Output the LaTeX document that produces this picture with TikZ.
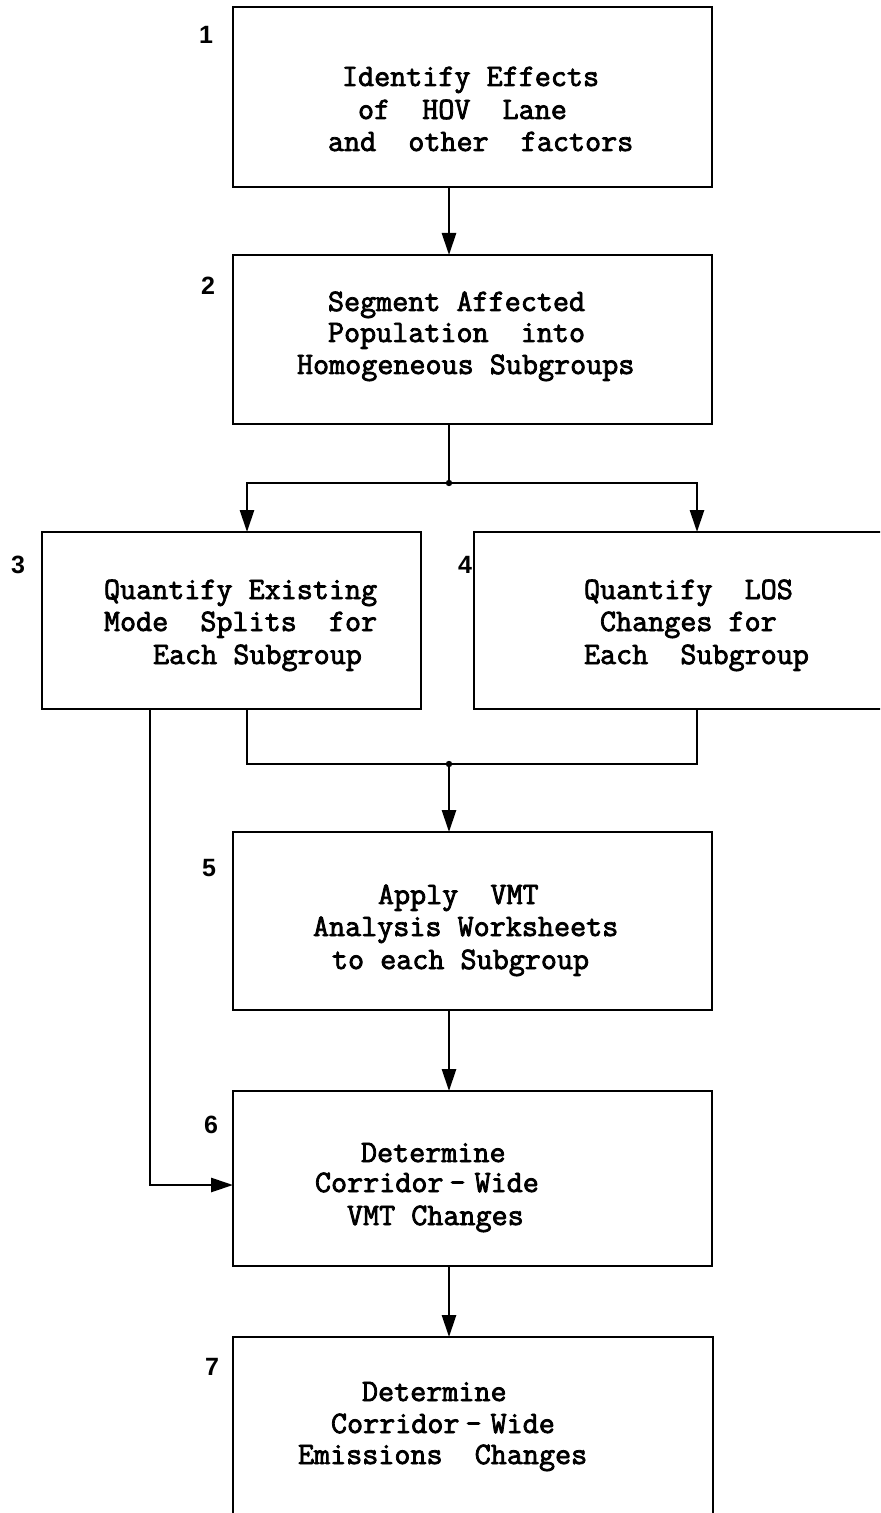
\documentclass[tikz,border=0pt]{standalone}
\usepackage{fontspec}
\usetikzlibrary{arrows.meta,fit}
\newfontfamily\numfont{Liberation Sans}
\newfontfamily\twfont[FakeBold=2.5]{Latin Modern Mono}
\begin{document}
\begin{tikzpicture}[x=0.5pt,y=-0.5pt,
  line width=1.4pt,
  box/.style={draw, line width=1.4pt, inner sep=0pt, outer sep=0pt},
  txt/.style={inner sep=0pt, outer sep=0pt, anchor=base west, font=\twfont\fontsize{15.6pt}{18pt}\selectfont},
  num/.style={inner sep=0pt, outer sep=0pt, anchor=center, font=\numfont\bfseries\fontsize{12.5pt}{14pt}\selectfont},
  arr/.style={-{Triangle[length=11pt,width=7pt]}},
  dot/.style={circle, fill, inner sep=0pt, minimum size=3.2pt}]
\clip (0,0) rectangle (880,1513);
\fill[white] (0,0) rectangle (880,1513);
% boxes
\node[box, fit={(233,7) (712,187)}] (b1) {};
\node[box, fit={(233,255) (712,424)}] (b2) {};
\node[box, fit={(42,532) (421,709)}] (b3) {};
\node[box, fit={(474,532) (910,709)}] (b4) {};
\node[box, fit={(233,832) (712,1010)}] (b5) {};
\node[box, fit={(233,1091) (712,1266)}] (b6) {};
\node[box, fit={(233,1337) (713,1560)}] (b7) {};
% numbers
\node[num] (n1) at (206,35) {1};
\node[num] (n2) at (208,286) {2};
\node[num] (n3) at (18,565) {3};
\node[num] (n4) at (465,565) {4};
\node[num] (n5) at (209,868) {5};
\node[num] (n6) at (211,1125) {6};
\node[num] (n7) at (212,1367) {7};
% texts
\node[txt] (t1a) at (342,86) {Identify Effects};
\node[txt] (t1b) at (358,119) {of\ \ HOV\ \ Lane};
\node[txt] (t1c) at (328,151) {and\ \ other\ \ factors};
\node[txt] (t2a) at (328,311) {Segment Affected};
\node[txt] (t2b) at (328,342) {Population\ \ into};
\node[txt] (t2c) at (297,374) {Homogeneous Subgroups};
\node[txt] (t3a) at (104,599) {Quantify Existing};
\node[txt] (t3b) at (104,631) {Mode\ \ Splits\ \ for};
\node[txt] (t3c) at (153,664) {Each Subgroup};
\node[txt] (t4a) at (584,599) {Quantify\ \ LOS};
\node[txt] (t4b) at (600,631) {Changes for};
\node[txt] (t4c) at (584,664) {Each\ \ Subgroup};
\node[txt] (t5a) at (378,904) {Apply\ \ VMT};
\node[txt] (t5b) at (313,936) {Analysis Worksheets};
\node[txt] (t5c) at (332,969) {to each Subgroup};
\node[txt] (t6a) at (361,1162) {Determine};
\node[txt] (t6b) at (315,1192) {Corridor\kern3pt-\kern4.5pt Wide};
\node[txt] (t6c) at (347,1225) {VMT Changes};
\node[txt] (t7a) at (362,1401) {Determine};
\node[txt] (t7b) at (331,1433) {Corridor\kern3pt-\kern4.5pt Wide};
\node[txt] (t7c) at (298,1464) {Emissions\ \ Changes};
% connector coordinates
\coordinate (cx) at (449,0);
\coordinate (c3) at (247,0);
\coordinate (c4) at (697,0);
\coordinate (cl) at (150,0);
\coordinate (ja) at (0,1185);
\coordinate (j1) at (449,483);
\coordinate (j2) at (449,764);
% connectors
\draw[arr] (b1.south -| cx) -- (b2.north -| cx);
\draw (b2.south -| cx) -- (j1);
\draw[arr] (j1) -| (b3.north -| c3);
\draw[arr] (j1) -| (b4.north -| c4);
\draw (b3.south -| c3) |- (j2) -| (b4.south -| c4);
\draw[arr] (j2) -- (b5.north -| j2);
\draw[arr] (b3.south -| cl) |- (b6.west |- ja);
\draw[arr] (b5.south -| cx) -- (b6.north -| cx);
\draw[arr] (b6.south -| cx) -- (b7.north -| cx);
\node[dot] (d1) at (j1) {};
\node[dot] (d2) at (j2) {};
\end{tikzpicture}
\end{document}
